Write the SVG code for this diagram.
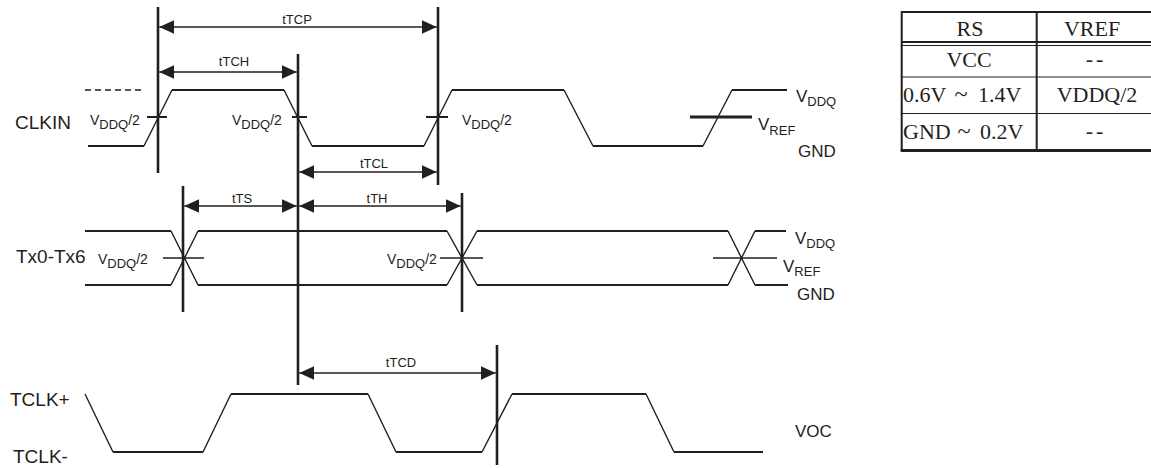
<svg xmlns="http://www.w3.org/2000/svg" width="1151" height="468" viewBox="0 0 1151 468">
<defs>
<style>
.bg{fill:#fff}
.vl{stroke:#231f20;stroke-width:2.6;fill:none}
.dim{stroke:#231f20;stroke-width:1.5;fill:none;marker-start:url(#ah);marker-end:url(#ah)}
.wh{stroke:#231f20;stroke-width:2.2;fill:none;stroke-linejoin:round}
.ws{stroke:#231f20;stroke-width:1.4;fill:none}
.tick{stroke:#231f20;stroke-width:2;fill:none}
.tl{stroke:#231f20;fill:none}
text{font-family:"Liberation Sans",Arial,Helvetica,sans-serif;fill:#231f20}
.big{font-size:19px}
.lab{font-size:13px;text-anchor:middle}
.v{font-size:14px}
.r{font-size:17px}
.tt{font-family:"Liberation Serif","Times New Roman",serif;font-size:22px;text-anchor:middle}
.ts{font-family:"Liberation Serif","Times New Roman",serif;font-size:22px}
</style>
<marker id="ah" markerUnits="userSpaceOnUse" viewBox="0 0 15 14" markerWidth="15" markerHeight="14" refX="15" refY="7" orient="auto-start-reverse">
<path d="M0,0 L15,7 L0,14 z" fill="#231f20"/>
</marker>
</defs>
<rect class="bg" x="0" y="0" width="1151" height="468"/>

<g id="connectors">
<line class="vl" x1="158" y1="7" x2="158" y2="173"/>
<line class="vl" x1="438" y1="7" x2="438" y2="185"/>
<line class="vl" x1="298" y1="54" x2="298" y2="385"/>
<line class="vl" x1="183" y1="186" x2="183" y2="312"/>
<line class="vl" x1="462" y1="193" x2="462" y2="312"/>
<line class="vl" x1="497" y1="345" x2="497" y2="465"/>
<line class="dim" x1="159.3" y1="27" x2="436.7" y2="27"/>
<line class="dim" x1="159.3" y1="72" x2="296.7" y2="72"/>
<line class="dim" x1="299.3" y1="172" x2="436.7" y2="172"/>
<line class="dim" x1="184.3" y1="206" x2="296.7" y2="206"/>
<line class="dim" x1="299.3" y1="206" x2="460.7" y2="206"/>
<line class="dim" x1="299.3" y1="373" x2="495.7" y2="373"/>
</g>

<g id="dim-labels">
<text class="lab" x="297" y="24">tTCP</text>
<text class="lab" x="234" y="66">tTCH</text>
<text class="lab" x="374" y="168">tTCL</text>
<text class="lab" x="242" y="203">tTS</text>
<text class="lab" x="377" y="203">tTH</text>
<text class="lab" x="401" y="367">tTCD</text>
</g>

<g id="clkin">
<text class="big" x="15" y="129">CLKIN</text>
<line x1="85" y1="90" x2="145" y2="90" stroke="#231f20" stroke-width="1.5" stroke-dasharray="6 4"/>
<path class="wh" d="M88,146 H144 M172,90 H284 M312,146 H424 M452,90 H564 M593,146 H703 M732,90 H787"/>
<path class="ws" d="M144,146 L172,90 M284,90 L312,146 M424,146 L452,90 M564,90 L593,146 M703,146 L732,90"/>
<path class="tick" d="M147,117 H167 M292,117 H307 M426,117 H448"/>
<line x1="690" y1="117" x2="752" y2="117" stroke="#231f20" stroke-width="3"/>
<text class="v" x="90" y="125">V<tspan font-size="13" dy="4">DDQ</tspan><tspan dy="-4">/2</tspan></text>
<text class="v" x="232" y="125">V<tspan font-size="13" dy="4">DDQ</tspan><tspan dy="-4">/2</tspan></text>
<text class="v" x="462" y="125">V<tspan font-size="13" dy="4">DDQ</tspan><tspan dy="-4">/2</tspan></text>
<text class="r" x="796" y="102">V<tspan font-size="13" dy="4">DDQ</tspan></text>
<text class="r" x="758" y="130">V<tspan font-size="13" dy="5">REF</tspan></text>
<text class="r" x="798" y="157">GND</text>
</g>

<g id="tx">
<text class="big" x="16" y="263" font-size="18.5">Tx0-Tx6</text>
<path class="wh" d="M85,231 H171 M198,231 H447 M477,231 H728 M755,231 H786 M85,285 H171 M198,285 H447 M477,285 H728 M755,285 H788"/>
<path class="ws" d="M171,231 L198,285 M171,285 L198,231 M447,231 L477,285 M447,285 L477,231 M728,231 L755,285 M728,285 L755,231"/>
<path class="ws" stroke-width="1.7" d="M163,258 H204 M440,258 H483 M713,258 H777"/>
<text class="v" x="98" y="264">V<tspan font-size="13" dy="4">DDQ</tspan><tspan dy="-4">/2</tspan></text>
<text class="v" x="387" y="264">V<tspan font-size="13" dy="4">DDQ</tspan><tspan dy="-4">/2</tspan></text>
<text class="r" x="795" y="244">V<tspan font-size="13" dy="4">DDQ</tspan></text>
<text class="r" x="783" y="272">V<tspan font-size="13" dy="4">REF</tspan></text>
<text class="r" x="797" y="300">GND</text>
</g>

<g id="tclk">
<text class="big" x="10" y="406">TCLK+</text>
<text class="big" x="13" y="463">TCLK-</text>
<path class="wh" d="M113,452 H203 M231,394 H368 M396,452 H482 M512,394 H646"/>
<path class="wh" stroke-width="2.8" d="M674,452 H763"/>
<path class="ws" d="M85,394 L113,452 M203,452 L231,394 M368,394 L396,452 M482,452 L512,394 M646,394 L674,452"/>
<text class="r" x="795" y="437">VOC</text>
</g>

<g id="table">
<path class="tl" stroke-width="2" d="M901.7,11 V151 M1036.7,11 V151 M900.7,12 H1151 M900.7,42 H1151"/>
<path class="tl" stroke-width="1.2" d="M900.7,45.5 H1151 M900.7,77 H1151 M900.7,113.5 H1151"/>
<path class="tl" stroke-width="3" d="M900.7,150.5 H1151"/>
<text class="tt" x="970" y="36">RS</text>
<text class="tt" x="1092" y="36">VREF</text>
<text class="tt" x="969" y="67">VCC</text>
<text class="tt" x="1096" y="66" letter-spacing="3">--</text>
<text class="ts" x="903" y="102">0.6V</text>
<text class="tt" transform="translate(961,101) scale(1.1,1)" font-size="18">~</text>
<text class="ts" x="978" y="102">1.4V</text>
<text class="tt" x="1097" y="102">VDDQ/2</text>
<text class="ts" x="903" y="139">GND</text>
<text class="tt" transform="translate(964,138) scale(1.1,1)" font-size="18">~</text>
<text class="ts" x="980" y="139">0.2V</text>
<text class="tt" x="1096" y="138" letter-spacing="3">--</text>
</g>
</svg>
